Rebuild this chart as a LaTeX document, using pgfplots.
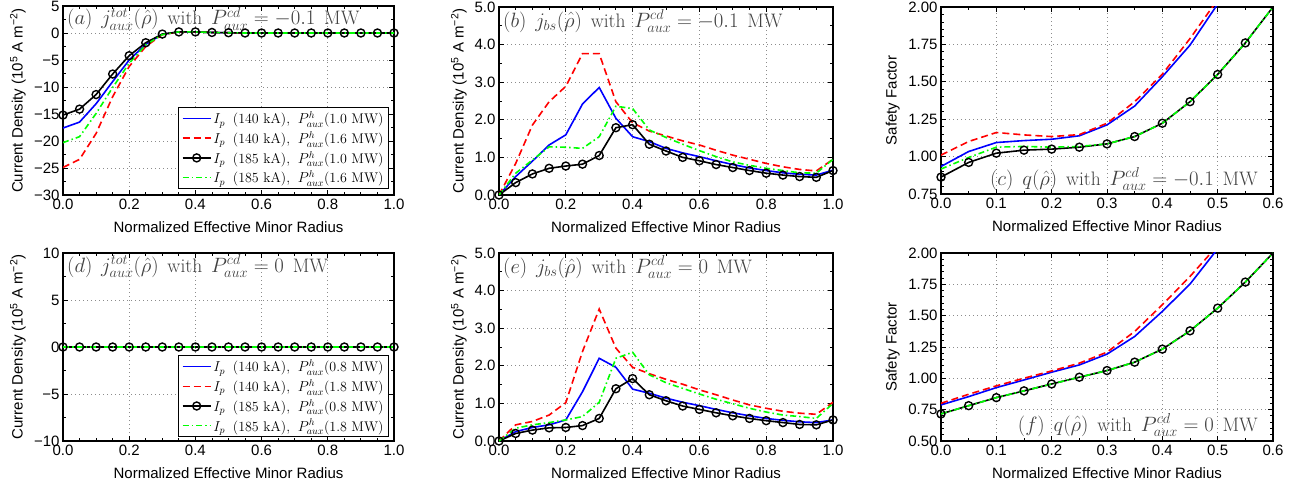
\documentclass[border=0pt]{standalone}
\usepackage{fontspec}
\newfontfamily\helv{Liberation Sans}
\newfontfamily\lmr{Latin Modern Roman}
\usepackage{pgfplots}
\pgfplotsset{compat=1.18}
\definecolor{cblue}{rgb}{0,0,1}
\definecolor{cred}{rgb}{1,0,0}
\definecolor{cgreen}{rgb}{0,1,0}
\definecolor{annot}{gray}{0.25}
\newcommand{\annfont}{\lmr\fontsize{19.5}{22}\selectfont}
\newcommand{\legfont}{\lmr\fontsize{14}{16}\selectfont}
\newcommand{\asp}{\hspace{0.45em}}
\newcommand{\lsp}{\hspace{0.55em}}
\newcommand{\legent}[2]{$I_p$\lsp(#1 kA),\lsp$P^h_{aux}$(#2 MW)}

\pgfplotsset{
 base/.style={
  scale only axis,
  xmin=0,
  axis line style={line width=1.3pt},
  every tick/.style={black,line width=0.9pt},
  major tick length=5pt, minor tick length=3pt,
  tick align=inside,
  grid=major,
  major grid style={dash pattern=on 1pt off 3pt, line width=0.8pt, black!45},
  minor grid style={draw=none},
  tick label style={font=\helv\fontsize{15}{18}\selectfont},
  label style={font=\helv\fontsize{15}{18}\selectfont},
  legend cell align=left,
  legend style={draw=black, line width=1.1pt, fill=white, font=\legfont, inner xsep=3pt, inner ysep=2pt, row sep=2pt, anchor=south east},
  legend image code/.code={\draw[mark repeat=2,mark phase=2,#1] plot coordinates {(0pt,0pt) (14pt,0pt) (28pt,0pt)};},
 },
 sb/.style={cblue, solid, no marks, line width=1.6pt},
 sr/.style={cred, dash pattern=on 7pt off 4pt, no marks, line width=1.6pt},
 sk/.style={black, solid, mark=o, mark size=4pt, line width=1.6pt, mark options={solid, line width=1.4pt}},
 sg/.style={cgreen, dash pattern=on 6pt off 3pt on 1.5pt off 3pt, no marks, line width=1.6pt},
 rowA/.style={xmax=1, xtick={0,0.2,0.4,0.6,0.8,1}, xticklabels={0.0,0.2,0.4,0.6,0.8,1.0}, minor x tick num=3},
 rowC/.style={xmax=0.6, xtick={0,0.1,0.2,0.3,0.4,0.5,0.6}, xticklabels={0.0,0.1,0.2,0.3,0.4,0.5,0.6}, minor x tick num=1},
 xlab/.style={xlabel={Normalized Effective Minor Radius}, xlabel style={at={(axis description cs:0.5,-0.17)}, anchor=center}},
}

\begin{document}
\begin{tikzpicture}[x=1pt,y=1pt]
\useasboundingbox (0,0) rectangle (1299,485);

% ---------------- (a)
\begin{axis}[base, rowA, xlab, at={(63pt,290pt)}, anchor=south west, width=331pt, height=189pt,
  ymin=-30, ymax=5, ytick={-30,-25,-20,-15,-10,-5,0,5}, yticklabels={−30,−25,−20,−15,−10,−5,0,5}, minor y tick num=1,
  ylabel={Current Density (10\textsuperscript{5} A m\textsuperscript{−2})},
  ylabel style={at={(axis description cs:-0.136,0.5)}, anchor=center},
  legend style={at={(rel axis cs:0.985,0.032)}}]
\addplot[sb] coordinates {(0,-17.6)(0.05,-16.5)(0.1,-13.1)(0.15,-9.0)(0.2,-5.0)(0.25,-2.1)(0.3,-0.25)(0.35,0.2)(0.4,0.2)(0.45,0.1)(0.5,0.05)(0.55,0)(0.6,0)(0.65,0)(0.7,0)(0.75,0)(0.8,0)(0.85,0)(0.9,0)(0.95,0)(1,0)};
\addplot[sr] coordinates {(0,-24.9)(0.05,-23.4)(0.1,-18.6)(0.15,-11.8)(0.2,-6.2)(0.25,-2.5)(0.3,-0.3)(0.35,0.2)(0.4,0.2)(0.45,0.1)(0.5,0.05)(0.55,0)(0.6,0)(0.65,0)(0.7,0)(0.75,0)(0.8,0)(0.85,0)(0.9,0)(0.95,0)(1,0)};
\addplot[sk] coordinates {(0,-15.2)(0.05,-14.1)(0.1,-11.4)(0.15,-7.6)(0.2,-4.2)(0.25,-1.8)(0.3,-0.2)(0.35,0.2)(0.4,0.2)(0.45,0.1)(0.5,0.05)(0.55,0)(0.6,0)(0.65,0)(0.7,0)(0.75,0)(0.8,0)(0.85,0)(0.9,0)(0.95,0)(1,0)};
\addplot[sg] coordinates {(0,-20.3)(0.05,-19.2)(0.1,-14.9)(0.15,-10.1)(0.2,-5.6)(0.25,-2.2)(0.3,-0.3)(0.35,0.2)(0.4,0.2)(0.45,0.1)(0.5,0.05)(0.55,0)(0.6,0)(0.65,0)(0.7,0)(0.75,0)(0.8,0)(0.85,0)(0.9,0)(0.95,0)(1,0)};
\legend{{\legent{140}{1.0}}, {\legent{140}{1.6}}, {\legent{185}{1.0}}, {\legent{185}{1.6}}}
\node[anchor=base west, inner sep=0pt, text=annot, font=\annfont, xshift=4pt, yshift=-19pt] at (rel axis cs:0,1) {$(a)$\asp$j^{tot}_{aux}(\hat{\rho})$\asp with\asp$P^{cd}_{aux}=-0.1$\asp MW};
\end{axis}

% ---------------- (b)
\begin{axis}[base, rowA, xlab, at={(499pt,290pt)}, anchor=south west, width=334pt, height=188pt,
  ymin=0, ymax=5, ytick={0,1,2,3,4,5}, yticklabels={0.0,1.0,2.0,3.0,4.0,5.0}, minor y tick num=1,
  ylabel={Current Density (10\textsuperscript{5} A m\textsuperscript{−2})},
  ylabel style={at={(axis description cs:-0.12,0.5)}, anchor=center}]
\addplot[sb] coordinates {(0,0)(0.05,0.49)(0.1,0.90)(0.15,1.33)(0.2,1.60)(0.25,2.42)(0.3,2.86)(0.35,2.04)(0.4,1.55)(0.45,1.42)(0.5,1.24)(0.55,1.12)(0.6,1.02)(0.65,0.91)(0.7,0.81)(0.75,0.72)(0.8,0.65)(0.85,0.59)(0.9,0.55)(0.95,0.53)(1,0.66)};
\addplot[sr] coordinates {(0,0)(0.05,0.84)(0.1,1.86)(0.15,2.48)(0.2,2.89)(0.25,3.76)(0.3,3.76)(0.35,2.48)(0.4,1.92)(0.45,1.70)(0.5,1.57)(0.55,1.44)(0.6,1.33)(0.65,1.19)(0.7,1.06)(0.75,0.95)(0.8,0.84)(0.85,0.75)(0.9,0.68)(0.95,0.64)(1,0.95)};
\addplot[sk] coordinates {(0,0)(0.05,0.33)(0.1,0.56)(0.15,0.71)(0.2,0.77)(0.25,0.82)(0.3,1.05)(0.35,1.79)(0.4,1.87)(0.45,1.35)(0.5,1.17)(0.55,1.00)(0.6,0.91)(0.65,0.81)(0.7,0.73)(0.75,0.65)(0.8,0.58)(0.85,0.53)(0.9,0.49)(0.95,0.47)(1,0.65)};
\addplot[sg] coordinates {(0,0)(0.05,0.58)(0.1,0.93)(0.15,1.28)(0.2,1.27)(0.25,1.24)(0.3,1.55)(0.35,2.36)(0.4,2.30)(0.45,1.73)(0.5,1.53)(0.55,1.35)(0.6,1.18)(0.65,1.02)(0.7,0.88)(0.75,0.79)(0.8,0.71)(0.85,0.65)(0.9,0.59)(0.95,0.58)(1,0.95)};
\node[anchor=base west, inner sep=0pt, text=annot, font=\annfont, xshift=4pt, yshift=-20pt] at (rel axis cs:0,1) {$(b)$\asp$j_{bs}(\hat{\rho})$\asp with\asp$P^{cd}_{aux}=-0.1$\asp MW};
\end{axis}

% ---------------- (c)
\begin{axis}[base, rowC, xlab, at={(941pt,291pt)}, anchor=south west, width=332pt, height=187pt,
  ymin=0.75, ymax=2, ytick={0.75,1,1.25,1.5,1.75,2}, yticklabels={0.75,1.00,1.25,1.50,1.75,2.00}, minor y tick num=4,
  ylabel={Safety Factor},
  ylabel style={at={(axis description cs:-0.145,0.5)}, anchor=center}]
\addplot[sb] coordinates {(0,0.934)(0.05,1.034)(0.1,1.094)(0.15,1.107)(0.2,1.116)(0.25,1.139)(0.3,1.212)(0.35,1.338)(0.4,1.534)(0.45,1.745)(0.5,2.02)(0.55,2.3)};
\addplot[sr] coordinates {(0,1.01)(0.05,1.101)(0.1,1.161)(0.15,1.145)(0.2,1.134)(0.25,1.147)(0.3,1.223)(0.35,1.367)(0.4,1.551)(0.45,1.789)(0.5,2.05)(0.55,2.35)};
\addplot[sk, mark indices={1,2,3,4,5,6,7,8,9,10,11,12}] coordinates {(0,0.863)(0.05,0.961)(0.1,1.023)(0.15,1.043)(0.2,1.05)(0.25,1.063)(0.3,1.085)(0.35,1.134)(0.4,1.223)(0.45,1.367)(0.5,1.549)(0.55,1.76)(0.6,2.0)};
\addplot[sg] coordinates {(0,0.917)(0.05,0.994)(0.1,1.063)(0.15,1.068)(0.2,1.063)(0.25,1.068)(0.3,1.085)(0.35,1.134)(0.4,1.223)(0.45,1.367)(0.5,1.549)(0.55,1.76)(0.6,2.0)};
\node[anchor=base east, inner sep=0pt, text=annot, font=\annfont, xshift=-15pt, yshift=8.5pt] at (rel axis cs:1,0) {$(c)$\asp$q(\hat{\rho})$\asp with\asp$P^{cd}_{aux}=-0.1$\asp MW};
\end{axis}

% ---------------- (d)
\begin{axis}[base, rowA, xlab, at={(63pt,44pt)}, anchor=south west, width=331pt, height=188pt,
  ymin=-10, ymax=10, ytick={-10,-5,0,5,10}, yticklabels={−10,−5,0,5,10}, minor y tick num=1,
  ylabel={Current Density (10\textsuperscript{5} A m\textsuperscript{−2})},
  ylabel style={at={(axis description cs:-0.136,0.5)}, anchor=center},
  legend style={at={(rel axis cs:0.985,0.021)}}]
\addplot[sb] coordinates {(0,0)(0.05,0)(0.1,0)(0.15,0)(0.2,0)(0.25,0)(0.3,0)(0.35,0)(0.4,0)(0.45,0)(0.5,0)(0.55,0)(0.6,0)(0.65,0)(0.7,0)(0.75,0)(0.8,0)(0.85,0)(0.9,0)(0.95,0)(1,0)};
\addplot[sr] coordinates {(0,0)(0.05,0)(0.1,0)(0.15,0)(0.2,0)(0.25,0)(0.3,0)(0.35,0)(0.4,0)(0.45,0)(0.5,0)(0.55,0)(0.6,0)(0.65,0)(0.7,0)(0.75,0)(0.8,0)(0.85,0)(0.9,0)(0.95,0)(1,0)};
\addplot[sk] coordinates {(0,0)(0.05,0)(0.1,0)(0.15,0)(0.2,0)(0.25,0)(0.3,0)(0.35,0)(0.4,0)(0.45,0)(0.5,0)(0.55,0)(0.6,0)(0.65,0)(0.7,0)(0.75,0)(0.8,0)(0.85,0)(0.9,0)(0.95,0)(1,0)};
\addplot[sg] coordinates {(0,0)(0.05,0)(0.1,0)(0.15,0)(0.2,0)(0.25,0)(0.3,0)(0.35,0)(0.4,0)(0.45,0)(0.5,0)(0.55,0)(0.6,0)(0.65,0)(0.7,0)(0.75,0)(0.8,0)(0.85,0)(0.9,0)(0.95,0)(1,0)};
\legend{{\legent{140}{0.8}}, {\legent{140}{1.8}}, {\legent{185}{0.8}}, {\legent{185}{1.8}}}
\node[anchor=base west, inner sep=0pt, text=annot, font=\annfont, xshift=4pt, yshift=-19pt] at (rel axis cs:0,1) {$(d)$\asp$j^{tot}_{aux}(\hat{\rho})$\asp with\asp$P^{cd}_{aux}=0$\asp MW};
\end{axis}

% ---------------- (e)
\begin{axis}[base, rowA, xlab, at={(499pt,44pt)}, anchor=south west, width=334pt, height=188pt,
  ymin=0, ymax=5, ytick={0,1,2,3,4,5}, yticklabels={0.0,1.0,2.0,3.0,4.0,5.0}, minor y tick num=1,
  ylabel={Current Density (10\textsuperscript{5} A m\textsuperscript{−2})},
  ylabel style={at={(axis description cs:-0.12,0.5)}, anchor=center}]
\addplot[sb] coordinates {(0,0)(0.05,0.25)(0.1,0.36)(0.15,0.43)(0.2,0.56)(0.25,1.31)(0.3,2.20)(0.35,1.96)(0.4,1.38)(0.45,1.27)(0.5,1.14)(0.55,1.03)(0.6,0.94)(0.65,0.84)(0.7,0.75)(0.75,0.67)(0.8,0.60)(0.85,0.55)(0.9,0.51)(0.95,0.49)(1,0.56)};
\addplot[sr] coordinates {(0,0)(0.05,0.43)(0.1,0.52)(0.15,0.69)(0.2,1.02)(0.25,2.38)(0.3,3.51)(0.35,2.47)(0.4,1.96)(0.45,1.79)(0.5,1.64)(0.55,1.51)(0.6,1.36)(0.65,1.23)(0.7,1.09)(0.75,0.96)(0.8,0.87)(0.85,0.79)(0.9,0.74)(0.95,0.71)(1,1.03)};
\addplot[sk] coordinates {(0,0)(0.05,0.20)(0.1,0.29)(0.15,0.35)(0.2,0.36)(0.25,0.41)(0.3,0.60)(0.35,1.39)(0.4,1.66)(0.45,1.23)(0.5,1.07)(0.55,0.93)(0.6,0.84)(0.65,0.75)(0.7,0.67)(0.75,0.60)(0.8,0.54)(0.85,0.49)(0.9,0.44)(0.95,0.43)(1,0.56)};
\addplot[sg] coordinates {(0,0)(0.05,0.34)(0.1,0.43)(0.15,0.49)(0.2,0.56)(0.25,0.65)(0.3,1.03)(0.35,2.20)(0.4,2.36)(0.45,1.76)(0.5,1.55)(0.55,1.40)(0.6,1.25)(0.65,1.11)(0.7,0.99)(0.75,0.87)(0.8,0.77)(0.85,0.69)(0.9,0.65)(0.95,0.60)(1,1.00)};
\node[anchor=base west, inner sep=0pt, text=annot, font=\annfont, xshift=4pt, yshift=-20pt] at (rel axis cs:0,1) {$(e)$\asp$j_{bs}(\hat{\rho})$\asp with\asp$P^{cd}_{aux}=0$\asp MW};
\end{axis}

% ---------------- (f)
\begin{axis}[base, rowC, xlab, at={(941pt,44pt)}, anchor=south west, width=332pt, height=188pt,
  ymin=0.5, ymax=2, ytick={0.5,0.75,1,1.25,1.5,1.75,2}, yticklabels={0.50,0.75,1.00,1.25,1.50,1.75,2.00}, minor y tick num=4,
  ylabel={Safety Factor},
  ylabel style={at={(axis description cs:-0.145,0.5)}, anchor=center}]
\addplot[sb] coordinates {(0,0.788)(0.05,0.854)(0.1,0.926)(0.15,0.987)(0.2,1.049)(0.25,1.107)(0.3,1.193)(0.35,1.334)(0.4,1.534)(0.45,1.752)(0.5,2.034)(0.55,2.35)};
\addplot[sr] coordinates {(0,0.801)(0.05,0.873)(0.1,0.94)(0.15,1.001)(0.2,1.059)(0.25,1.121)(0.3,1.209)(0.35,1.374)(0.4,1.587)(0.45,1.813)(0.5,2.06)(0.55,2.4)};
\addplot[sk, mark indices={1,2,3,4,5,6,7,8,9,10,11,12}] coordinates {(0,0.716)(0.05,0.782)(0.1,0.846)(0.15,0.900)(0.2,0.955)(0.25,1.009)(0.3,1.062)(0.35,1.129)(0.4,1.233)(0.45,1.379)(0.5,1.56)(0.55,1.768)(0.6,2.0)};
\addplot[sg] coordinates {(0,0.716)(0.05,0.782)(0.1,0.846)(0.15,0.900)(0.2,0.955)(0.25,1.009)(0.3,1.062)(0.35,1.129)(0.4,1.233)(0.45,1.379)(0.5,1.56)(0.55,1.768)(0.6,2.0)};
\node[anchor=base east, inner sep=0pt, text=annot, font=\annfont, xshift=-15pt, yshift=10pt] at (rel axis cs:1,0) {$(f)$\asp$q(\hat{\rho})$\asp with\asp$P^{cd}_{aux}=0$\asp MW};
\end{axis}
\end{tikzpicture}
\end{document}
